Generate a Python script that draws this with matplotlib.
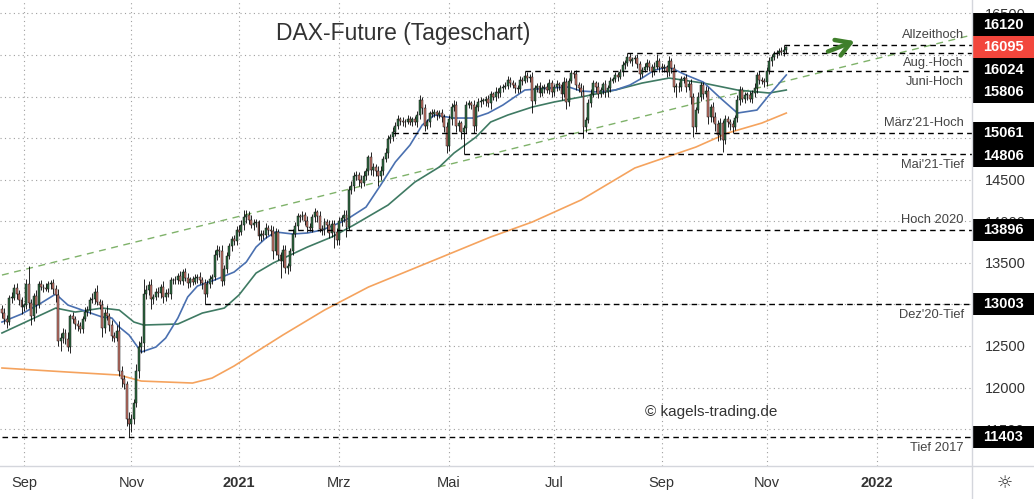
import matplotlib
matplotlib.use("Agg")
import matplotlib.pyplot as plt
import matplotlib.transforms as mtransforms
from matplotlib.lines import Line2D
from matplotlib.patches import Rectangle
import numpy as np
import pandas as pd

plt.rcParams["font.family"] = ["Liberation Sans", "DejaVu Sans"]

START = "2020-08-19"
FIRST_OPEN = 12950

# daily closes, one list per month
c_aug20 = [12900, 12820, 12790, 13080, 13080, 13200, 13120, 13050, 12970]
c_sep20 = [12990, 13250, 13020, 12860, 13100, 12990, 13240, 13210, 13200, 13190, 13240,
           13260, 13190, 13110, 12560, 12600, 12660, 12580, 12490, 12860, 12820, 12770]
c_oct20 = [12740, 12700, 12830, 12910, 12930, 13050, 13070, 13150, 13030, 12990, 12720,
           12900, 12860, 12750, 12620, 12600, 12680, 12200, 12100, 12040, 11620, 11560]
c_nov20 = [11620, 11810, 12200, 12490, 12530, 13120, 13170, 13230, 13060, 13090, 13150,
           13140, 13210, 13090, 13140, 13130, 13290, 13290, 13290, 13340, 13280]
c_dec20 = [13390, 13320, 13260, 13300, 13270, 13320, 13330, 13290, 13260, 13130, 13250,
           13300, 13330, 13590, 13660, 13640, 13280, 13420, 13580, 13700, 13790, 13760, 13900]
c_jan21 = [13870, 13950, 14050, 14080, 14020, 13960, 13980, 13990, 13820, 13850, 13840,
           13920, 13900, 13880, 13640, 13870, 13600, 13520, 13660, 13440, 13460]
c_feb21 = [13640, 13850, 13940, 14060, 14050, 14070, 14000, 13930, 13920, 14050, 14110,
           14060, 13910, 13890, 13990, 13950, 13860, 13970, 13870, 13780]
c_mar21 = [14000, 14040, 14080, 13930, 14380, 14430, 14540, 14560, 14500, 14460, 14550,
           14600, 14770, 14620, 14650, 14600, 14540, 14610, 14750, 14820, 14990, 15010, 15080]
c_apr21 = [15150, 15230, 15210, 15190, 15200, 15230, 15200, 15230, 15200, 15280, 15460,
           15360, 15150, 15190, 15300, 15290, 15310, 15280, 15300, 15250, 15130, 14900]
c_may21 = [15230, 15380, 15400, 15150, 15180, 15080, 15120, 15400, 15420, 15400, 15150,
           15370, 15430, 15450, 15450, 15470, 15420, 15530, 15500, 15560, 15540]
c_jun21 = [15600, 15620, 15630, 15700, 15660, 15640, 15600, 15590, 15700, 15690, 15750,
           15720, 15730, 15450, 15600, 15630, 15540, 15600, 15620, 15580, 15660, 15560]
c_jul21 = [15610, 15650, 15640, 15530, 15680, 15430, 15690, 15780, 15770, 15640, 15600,
           15560, 15140, 15220, 15420, 15530, 15660, 15620, 15530, 15580, 15650, 15550]
c_aug21 = [15600, 15690, 15710, 15760, 15740, 15790, 15880, 15910, 15980, 15930, 15950,
           15960, 15890, 15770, 15820, 15860, 15900, 15860, 15800, 15860, 15930, 15850]
c_sep21 = [15840, 15850, 15790, 15930, 15840, 15620, 15620, 15610, 15710, 15720, 15620,
           15650, 15490, 15130, 15340, 15500, 15640, 15530, 15570, 15250, 15370, 15260]
c_oct21 = [15170, 15040, 15180, 14980, 15230, 15200, 15170, 15140, 15240, 15460, 15580,
           15470, 15520, 15520, 15470, 15540, 15600, 15760, 15700, 15690, 15680]
c_nov21 = [15810, 15930, 15980, 16010, 16030, 16050, 16040, 16060, 16095]

# wick lengths (points above body top / below body bottom)
upper_wick = [
    40, 60, 50, 30, 70, 40, 60, 50, 40,
    30, 60, 210, 50, 40, 70, 40, 50, 30, 60, 40, 30, 50, 40, 80, 50, 60, 40, 90, 30, 50, 40,
    40, 50, 30, 60, 50, 40, 70, 50, 80, 40, 60, 50, 90, 40, 60, 50, 70, 120, 60, 50, 40, 90,
    60, 50, 80, 70, 90, 180, 60, 50, 70, 40, 50, 60, 40, 70, 50, 60, 40, 30, 50, 40, 60,
    40, 50, 60, 30, 40, 50, 30, 60, 40, 50, 40, 50, 30, 60, 50, 40, 80, 60, 50, 40, 30, 50, 40,
    60, 70, 80, 50, 40, 60, 50, 40, 30, 50, 40, 60, 40, 50, 60, 50, 40, 30, 50, 60, 40,
    40, 60, 50, 40, 30, 50, 40, 60, 50, 40, 50, 30, 60, 40, 50, 40, 60, 50, 40, 50,
    50, 40, 60, 50, 40, 60, 50, 40, 30, 60, 50, 40, 30, 60, 50, 40, 70, 50, 40, 60, 50, 40, 50,
    40, 50, 30, 40, 30, 50, 40, 30, 40, 50, 60, 40, 50, 40, 30, 50, 40, 30, 40, 50, 40, 60,
    50, 40, 60, 50, 40, 30, 40, 50, 40, 30, 60, 40, 50, 40, 30, 40, 50, 40, 30, 50, 40,
    40, 30, 40, 50, 30, 40, 30, 40, 50, 30, 56, 50, 40, 60, 40, 30, 50, 40, 30, 40, 50, 40,
    40, 50, 30, 40, 50, 40, 30, 40, 30, 50, 40, 60, 80, 40, 50, 60, 40, 30, 50, 40, 30, 50,
    40, 50, 30, 40, 30, 40, 50, 30, 44, 40, 30, 40, 50, 40, 30, 40, 50, 40, 30, 60, 80, 40,
    50, 40, 30, 60, 40, 50, 40, 60, 40, 30, 50, 40, 60, 50, 40, 50, 40, 30, 60, 50, 40, 60,
    60, 50, 60, 40, 50, 40, 30, 50, 40, 60, 50, 40, 30, 40, 50, 40, 60, 40, 50, 40, 30,
    40, 50, 30, 40, 30, 40, 50, 60, 15,
]
lower_wick = [
    60, 50, 70, 40, 60, 30, 50, 60, 80,
    50, 40, 60, 110, 60, 90, 30, 40, 50, 30, 40, 50, 60, 80, 60, 120, 70, 60, 50, 70, 40, 60,
    60, 50, 40, 30, 50, 40, 30, 60, 40, 50, 110, 60, 50, 70, 60, 50, 40, 60, 90, 60, 80, 150,
    90, 60, 50, 80, 70, 100, 50, 60, 120, 60, 40, 50, 60, 70, 50, 40, 60, 50, 40, 50, 40,
    50, 40, 60, 50, 40, 30, 60, 50, 70, 127, 40, 50, 60, 40, 50, 70, 60, 50, 40, 30, 60, 50, 40,
    50, 40, 60, 70, 50, 40, 60, 50, 40, 60, 50, 40, 70, 60, 90, 50, 60, 200, 70, 60, 80,
    60, 50, 40, 50, 60, 40, 50, 60, 40, 50, 60, 70, 40, 60, 50, 80, 60, 50, 190, 70,
    70, 60, 50, 120, 40, 50, 60, 40, 70, 60, 40, 50, 40, 60, 80, 60, 120, 40, 50, 40, 60, 50, 40,
    60, 40, 50, 40, 60, 30, 40, 50, 40, 60, 50, 70, 60, 40, 50, 40, 30, 60, 40, 50, 60, 80,
    60, 70, 50, 80, 60, 90, 274, 60, 40, 50, 90, 60, 40, 50, 40, 60, 50, 70, 40, 50, 60,
    50, 40, 30, 40, 50, 40, 60, 50, 40, 50, 30, 40, 40, 150, 40, 50, 40, 30, 60, 40, 50, 60,
    50, 40, 60, 70, 40, 80, 40, 30, 50, 60, 40, 50, 140, 60, 40, 50, 40, 60, 50, 40, 50, 60,
    50, 40, 30, 40, 50, 30, 40, 50, 40, 30, 60, 40, 50, 60, 40, 30, 40, 50, 60, 40, 30, 50,
    40, 50, 60, 40, 60, 70, 120, 60, 40, 50, 60, 40, 80, 116, 60, 40, 50, 60, 40, 80, 60, 70,
    80, 70, 60, 150, 50, 60, 70, 80, 40, 50, 60, 40, 50, 60, 40, 50, 40, 60, 50, 40, 60,
    50, 40, 60, 40, 50, 30, 40, 50, 40,
]

# moving averages (bar index, price)
fast_idx = [0, 8, 16, 22, 27, 41, 45, 48, 52, 57, 63, 67, 72, 76, 80, 87, 95, 100, 104, 108,
            112, 119, 125, 131, 135, 139, 142, 149, 155, 161, 167, 172, 177, 185, 193, 199,
            205, 214, 224, 232, 237, 244, 251, 257, 262, 267, 273, 280, 287, 294, 301, 309,
            314, 321]
fast_val = [12788, 12884, 13016, 13125, 12992, 12848, 12836, 12728, 12632, 12427, 12487,
            12595, 12836, 13089, 13221, 13293, 13389, 13510, 13690, 13798, 13871, 13847,
            13859, 13895, 13943, 13991, 14039, 14171, 14436, 14713, 14917, 15158, 15278,
            15242, 15242, 15302, 15398, 15579, 15603, 15615, 15567, 15555, 15579, 15639,
            15723, 15819, 15856, 15759, 15675, 15483, 15302, 15338, 15519, 15760]
slow_idx = [0, 22, 30, 41, 48, 54, 58, 72, 82, 91, 97, 104, 111, 118, 125, 135, 144, 158,
            169, 179, 185, 194, 200, 207, 217, 226, 237, 251, 262, 273, 287, 301, 314, 321]
slow_val = [12656, 12956, 12908, 12956, 12932, 12788, 12752, 12764, 12896, 12956, 13113,
            13377, 13498, 13594, 13690, 13811, 13955, 14195, 14472, 14653, 14821, 15013,
            15194, 15278, 15374, 15435, 15495, 15579, 15663, 15723, 15663, 15579, 15543, 15579]
long_idx = [0, 27, 48, 57, 78, 86, 95, 102, 115, 132, 150, 164, 184, 200, 217, 237, 259,
            284, 297, 311, 321]
long_val = [12235, 12186, 12150, 12078, 12054, 12114, 12259, 12391, 12632, 12932, 13209,
            13377, 13618, 13811, 13991, 14256, 14641, 14893, 15062, 15182, 15302]

trend_idx = [0, 397]
trend_val = [13353, 16241]

level_prices = [16120, 16024, 15806, 15061, 14806, 13896, 13003, 11403]
level_names = ["Allzeithoch", "Aug.-Hoch", "Juni-Hoch", "März'21-Hoch", "Mai'21-Tief",
               "Hoch 2020", "Dez'20-Tief", "Tief 2017"]
level_start = [320, 256, 214, 160, 189, 117, 83, 0]
level_label_above = [True, False, False, True, False, True, False, False]
last_price = 16095

month_labels = {3: "Mrz", 5: "Mai", 7: "Jul", 9: "Sep", 11: "Nov"}

arrow_from = (337, 16030)
arrow_to = (350, 16180)

# ---------------------------------------------------------------
closes = np.array(c_aug20 + c_sep20 + c_oct20 + c_nov20 + c_dec20 + c_jan21 + c_feb21
                  + c_mar21 + c_apr21 + c_may21 + c_jun21 + c_jul21 + c_aug21 + c_sep21
                  + c_oct21 + c_nov21, dtype=float)
n = len(closes)
opens = np.concatenate([[FIRST_OPEN], closes[:-1]])
highs = np.maximum(opens, closes) + np.array(upper_wick)
lows = np.minimum(opens, closes) - np.array(lower_wick)
idx = np.arange(n)

dates = pd.bdate_range(START, periods=420)

YMIN, YMAX = 11056, 16662
XMIN, XMAX = -0.8, 397
px = (YMAX - YMIN) / 466  # price units per pixel

fig = plt.figure(figsize=(10.34, 4.99), dpi=100)
ax = fig.add_axes([0, 33 / 499, 972 / 1034, 466 / 499])
ax.set_xlim(XMIN, XMAX)
ax.set_ylim(YMIN, YMAX)

# price boxes on the right axis, stacked to avoid overlap
box_h = px * 22.5
vals = sorted(level_prices + [last_price], reverse=True)
k = vals.index(last_price)
pos = list(vals)
for j in range(k - 1, -1, -1):
    pos[j] = max(vals[j], pos[j + 1] + box_h)
for j in range(k + 1, len(vals)):
    pos[j] = min(vals[j], pos[j - 1] - box_h)


def covered(y):
    return any(abs(y - b) <= box_h / 2 for b in pos)


# ticks / grid
yticks = np.arange(11500, 16501, 500)
ax.set_yticks(yticks)
ax.set_yticklabels(["" if covered(t + 6 * px) and covered(t - 6 * px) else str(t)
                    for t in yticks])
ticks, labels = [], []
for i in range(1, len(dates)):
    if dates[i].month != dates[i - 1].month and dates[i].month % 2 == 1 and i < XMAX:
        ticks.append(i)
        m = dates[i].month
        labels.append(str(dates[i].year) if m == 1 else month_labels[m])
ax.set_xticks(ticks)
ax.set_xticklabels(labels)
for t, lab in zip(ax.get_xticklabels(), labels):
    if lab.isdigit():
        t.set_fontweight("bold")
        t.set_color("#222222")
ax.grid(True, linestyle=(0, (1, 3)), color="#a0a0a0", linewidth=0.8)
ax.set_axisbelow(True)

ax.yaxis.tick_right()
ax.tick_params(axis="y", length=0, pad=9.5, labelsize=10.5, labelcolor="#333333")
ax.tick_params(axis="x", length=0, pad=7.5, labelsize=10.5, labelcolor="#333333")
for s in ax.spines.values():
    s.set_visible(False)

# trend line
ax.plot(trend_idx, trend_val, color="#7fb26a", lw=1.0, ls=(0, (5, 4)), zorder=2)

# moving averages
ax.plot(long_idx, long_val, color="#f5a35e", lw=1.2, zorder=2)
ax.plot(slow_idx, slow_val, color="#3f7a63", lw=1.2, zorder=2)
ax.plot(fast_idx, fast_val, color="#4a70b0", lw=1.2, zorder=2)

# candles
ax.vlines(idx, lows, highs, color="black", lw=0.6, zorder=3)
up = closes >= opens
body_h = np.maximum(np.abs(closes - opens), 8)
ax.bar(idx, body_h, bottom=np.minimum(opens, closes), width=0.8,
       color=np.where(up, "#2f6b41", "#c9786c"), edgecolor="#111111", linewidth=0.35,
       zorder=4)

# horizontal levels
trans = mtransforms.blended_transform_factory(ax.transAxes, ax.transData)
for p, name, st, above in zip(level_prices, level_names, level_start, level_label_above):
    ax.plot([st, XMAX], [p, p], color="black", lw=1.0, ls=(0, (4, 3)), zorder=5)
    ax.annotate(name, xy=(1, p), xycoords=trans, xytext=(-6, 7.5 if above else -7.5),
                textcoords="offset points", ha="right", va="center", fontsize=9.3,
                color="#444444", zorder=6)

box_w = (1034 - 972) / 972
for v, y in zip(vals, pos):
    col = "#f2463c" if v == last_price else "black"
    ax.add_patch(Rectangle((1.0, y - box_h / 2), box_w, box_h, transform=trans,
                           facecolor=col, edgecolor="none", clip_on=False, zorder=10))
    ax.text(1.0 + box_w / 2, y, f"{v}", transform=trans, ha="center", va="center",
            color="white", fontsize=10.5, fontweight="bold", clip_on=False, zorder=11)

# arrow
ax.annotate("", xy=arrow_to, xytext=arrow_from,
            arrowprops=dict(arrowstyle="->,head_length=1.0,head_width=0.6",
                            color="#3f7f2b", lw=3.2), zorder=7)

# texts
ax.text(0.4146, 0.928, "DAX-Future (Tageschart)", transform=ax.transAxes, ha="center",
        va="center", fontsize=16.5, color="#333333")
ax.text(0.7315, 0.116, "© kagels-trading.de", transform=ax.transAxes, ha="center",
        va="center", fontsize=11, color="#333333")
fig.text(1005 / 1034, 16 / 499, "☼", ha="center", va="center", fontsize=13,
         color="#333333", family="DejaVu Sans")

# frame lines
fig.add_artist(Line2D([0, 1], [33 / 499, 33 / 499], color="#d4d6dc", lw=1))
fig.add_artist(Line2D([972 / 1034, 972 / 1034], [0, 1], color="#d4d6dc", lw=1))

fig.savefig("out.png", dpi=100)
